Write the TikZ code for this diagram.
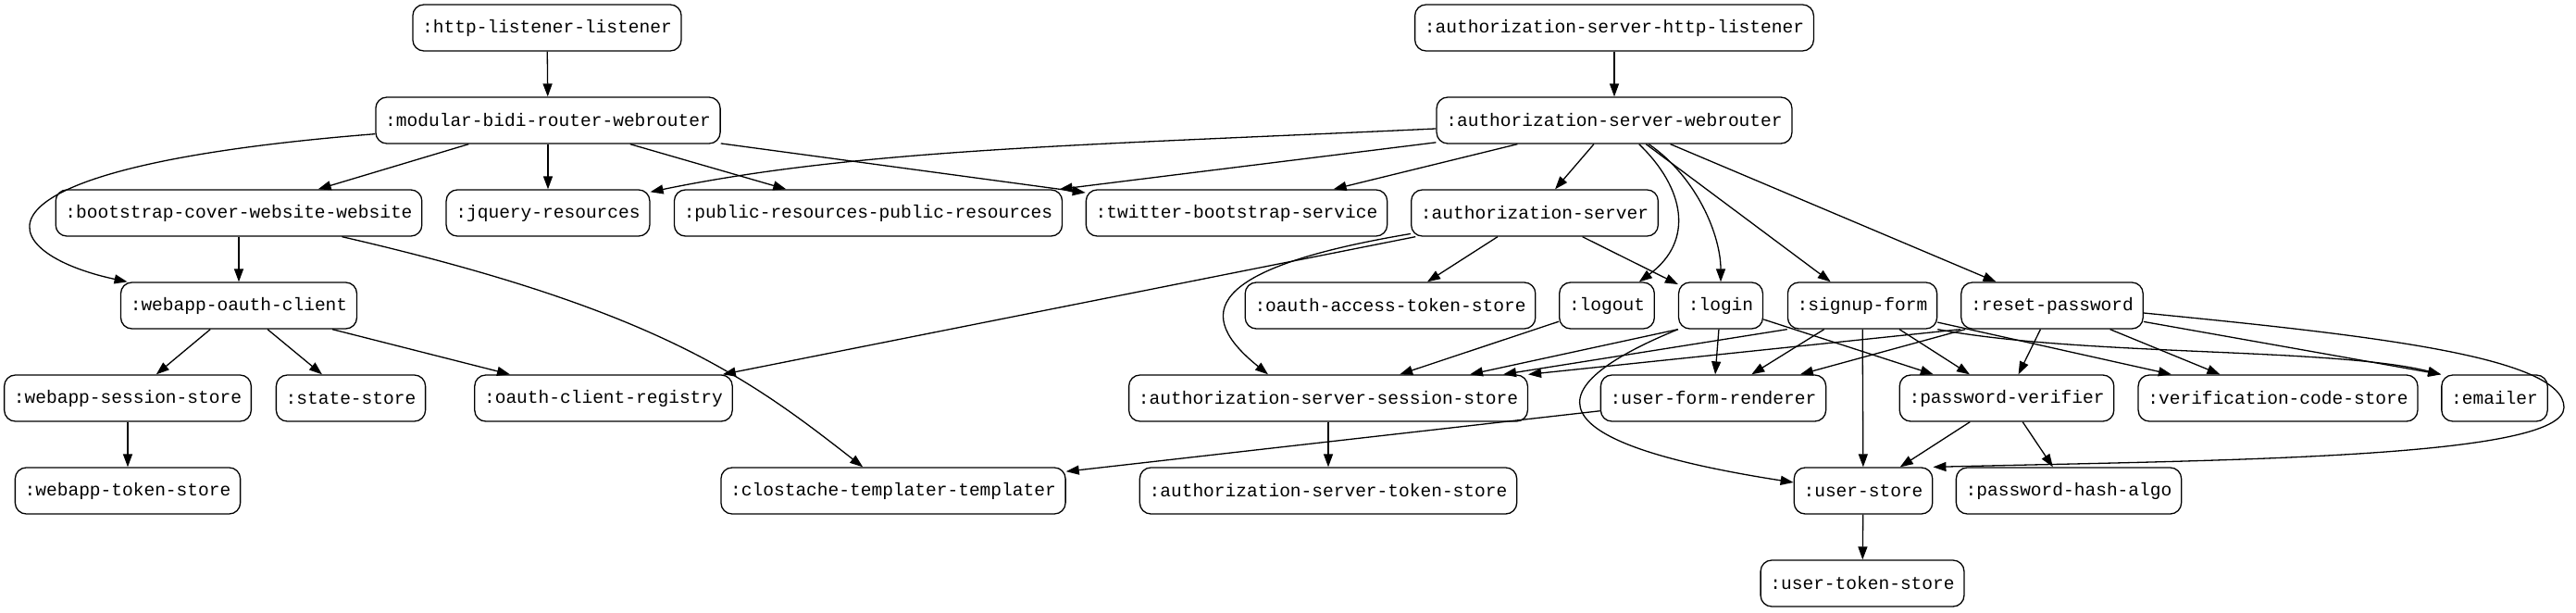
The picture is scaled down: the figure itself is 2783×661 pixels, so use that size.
\documentclass[tikz,border=0pt]{standalone}
\usepackage{fontspec}
\setmonofont{Liberation Mono}
\usetikzlibrary{arrows.meta,calc}

\begin{document}
\begin{tikzpicture}[x=1pt, y=-1pt,
    comp/.style={draw, rounded corners=12pt, minimum height=50pt, inner xsep=10.3pt, inner ysep=0pt, line width=1.3pt, font=\ttfamily\fontsize{19.53}{22}\selectfont},
    arr/.style={-{Triangle[length=14pt, width=10pt]}, line width=1.3pt}
]
\useasboundingbox (0,0) rectangle (2783,661);

\node[comp] (httplis) at (591,30) {:http-listener-listener};
\node[comp] (ashttp) at (1744,30) {:authorization-server-http-listener};
\node[comp] (modrouter) at (592,130) {:modular-bidi-router-webrouter};
\node[comp] (asrouter) at (1744,130) {:authorization-server-webrouter};
\node[comp] (bootstrap) at (258,230) {:bootstrap-cover-website-website};
\node[comp] (jquery) at (592,230) {:jquery-resources};
\node[comp] (pubres) at (938,230) {:public-resources-public-resources};
\node[comp] (twitter) at (1336,230) {:twitter-bootstrap-service};
\node[comp] (authsrv) at (1658,230) {:authorization-server};
\node[comp] (oauthcl) at (258,330) {:webapp-oauth-client};
\node[comp] (accstore) at (1502,330) {:oauth-access-token-store};
\node[comp] (logout) at (1736,330) {:logout};
\node[comp] (login) at (1859,330) {:login};
\node[comp] (signup) at (2012,330) {:signup-form};
\node[comp] (reset) at (2217,330) {:reset-password};
\node[comp] (sessstore) at (138,430) {:webapp-session-store};
\node[comp] (statestore) at (379,430) {:state-store};
\node[comp] (clientreg) at (652,430) {:oauth-client-registry};
\node[comp] (assess) at (1435,430) {:authorization-server-session-store};
\node[comp] (formrend) at (1851,430) {:user-form-renderer};
\node[comp] (pwverif) at (2168,430) {:password-verifier};
\node[comp] (verifcode) at (2461,430) {:verification-code-store};
\node[comp] (emailer) at (2695,430) {:emailer};
\node[comp] (tokstore) at (138,530) {:webapp-token-store};
\node[comp] (clostache) at (965,530) {:clostache-templater-templater};
\node[comp] (astoken) at (1435,530) {:authorization-server-token-store};
\node[comp] (userstore) at (2013,530) {:user-store};
\node[comp] (pwhash) at (2235,530) {:password-hash-algo};
\node[comp] (usertok) at (2012,630) {:user-token-store};

\draw[arr] (httplis) -- (modrouter);
\draw[arr] (ashttp) -- (asrouter);
\draw[arr] (modrouter) -- (bootstrap);
\draw[arr] (modrouter) -- (jquery);
\draw[arr] (modrouter) -- (pubres);
\draw[arr] (modrouter) -- (twitter);
\draw[arr] (modrouter) .. controls (-65,182) and (-5,274) .. (oauthcl);
\draw[arr] (bootstrap) -- (oauthcl);
\draw[arr] (bootstrap) .. controls (710,334) and (810,409) .. (clostache);
\draw[arr] (asrouter) .. controls (1168,157) and (928,161) .. (jquery);
\draw[arr] (asrouter) -- (pubres);
\draw[arr] (asrouter) -- (twitter);
\draw[arr] (asrouter) -- (authsrv);
\draw[arr] (asrouter) .. controls (1820,203) and (1831,260) .. (logout);
\draw[arr] (asrouter) .. controls (1834,192) and (1859,255) .. (login);
\draw[arr] (asrouter) -- (signup);
\draw[arr] (asrouter) -- (reset);
\draw[arr] (authsrv) -- (accstore);
\draw[arr] (authsrv) -- (login);
\draw[arr] (authsrv) -- (clientreg);
\draw[arr] (authsrv) .. controls (1300,290) and (1290,340) .. ($(assess.north)+(-65,0)$);
\draw[arr] (oauthcl) -- (sessstore);
\draw[arr] (oauthcl) -- (statestore);
\draw[arr] (oauthcl) -- (clientreg);
\draw[arr] (sessstore) -- (tokstore);
\draw[arr] (logout) -- (assess);
\draw[arr] (login.south west) -- ($(assess.north)+(153,0)$);
\draw[arr] (login) -- (formrend);
\draw[arr] (login.south west) .. controls (1614,437) and (1719,487) .. ($(userstore.west)+(0,-9)$);
\draw[arr] (login) -- (pwverif);
\draw[arr] (signup.south west) -- ($(assess.north)+(189,0)$);
\draw[arr] (signup) -- (formrend);
\draw[arr] (signup) -- (userstore);
\draw[arr] (signup) -- (pwverif);
\draw[arr] (signup) -- (verifcode);
\draw[arr] (signup.south east) .. controls (2250,385) and (2520,375) .. (emailer.north west);
\draw[arr] (reset.south west) -- (assess.north east);
\draw[arr] (reset) -- (formrend);
\draw[arr] (reset) -- (pwverif);
\draw[arr] (reset) -- (verifcode);
\draw[arr] (reset) -- (emailer.north west);
\draw[arr] ($(reset.east)+(0,8)$) .. controls (2560,362) and (2770,385) .. (2770,440) .. controls (2770,495) and (2400,497) .. (userstore.north east);
\draw[arr] (pwverif) -- (userstore);
\draw[arr] (pwverif) -- (pwhash);
\draw[arr] (formrend) -- (clostache);
\draw[arr] (assess) -- (astoken);
\draw[arr] (userstore) -- (usertok);
\end{tikzpicture}
\end{document}
